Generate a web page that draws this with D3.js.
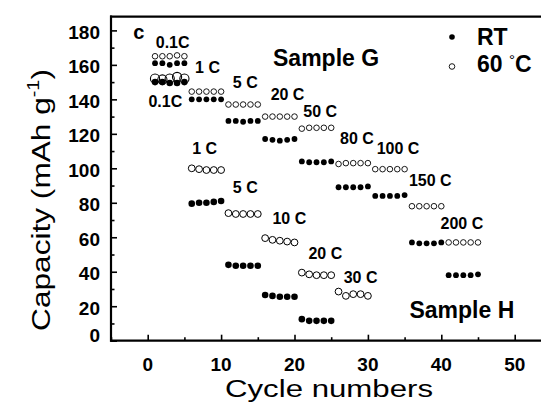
<!DOCTYPE html>
<html><head><meta charset="utf-8">
<script src="https://cdn.jsdelivr.net/npm/d3@7"></script>
<style>body{margin:0;background:#fff}svg{display:block}text{font-family:"Liberation Sans",Arial,sans-serif}</style>
</head><body><svg id="c" width="541" height="403"></svg>
<script>
// ---------- data ----------
const cyclesG = [1,2,3,4,5,6,7,8,9,10,11,12,13,14,15,16,17,18,19,20,21,22,23,24,25,26,27,28,29,30,31,32,33,34,35,36,37,38,39,40,41,42,43,44,45];
const sampleG_RT = [161,161,160,161,161, 140,140,140,140,140, 127.5,127.5,127,127.5,127.5, 117,116.5,116,116.5,117, 104,103.5,103.5,103.5,104, 89,89,89,89,89.5, 84,84,84,84,84.5, 57,56.5,56.5,56.5,57, 38,38,38,38,38.5];
const sampleG_60C = [165,165,165,165.5,165, 144.5,144.5,144.5,144.5,144.5, 137,137,137,137,137, 130,130,130,130,130, 123,123.5,123.5,123.5,123.5, 102.5,103,103,103,103, 99.5,99.5,99.5,99.5,99.5, 78,78,78,78,78, 57,57,57,57,57];
const cyclesH_RT = [1,2,3,4,5,6,7,8,9,10,11,12,13,14,15,16,17,18,19,20,21,22,23,24,25];
const sampleH_RT = [150,150,149.5,149.5,150, 79.5,80,80,80.5,81, 44,43.5,43.5,43.5,43.5, 26.5,26,25.5,25.5,25.5, 12.5,11.5,11.5,11.5,11.5];
const cyclesH_60C = [6,7,8,9,10,11,12,13,14,15,16,17,18,19,20,21,22,23,24,25,26,27,28,29,30];
const sampleH_60C = [100,99.5,99,99,99, 74,73.5,73.5,73.5,73.5, 59.5,58.5,58,57.5,57, 39.5,38.5,38,38,38, 28.5,26,27,27,26];
const cyclesH_60C_01 = [1,2,3,4,5];
const sampleH_60C_01 = [152,151.5,152,153,152];
const xTicks = [0,10,20,30,40,50];
const yTicks = [0,20,40,60,80,100,120,140,160,180];
const rateLabels = ["c","0.1C","1 C","0.1C","5 C","20 C","50 C","80 C","100 C","150 C","200 C","1 C","5 C","10 C","20 C","30 C"];
const rateLabelX = [-1.2,3.4,8.15,2.4,13.3,19.05,23.5,28.5,34.1,38.5,42.8,7.75,13.3,19.3,24.2,29];
const rateLabelY = [178.8,173,158.5,138.5,149.8,143.1,132.7,117.5,111.6,93.2,67.7,111.2,88.6,70.6,50.3,36.4];
const sampleNames = ["Sample G","Sample H"];
const sampleNameX = [24.3,42.8];
const sampleNameY = [164,17.8];

// ---------- chart ----------
const svg = d3.select("#c");
const x = d3.scaleLinear().domain([-5,55]).range([111,551.4]);
const y = d3.scaleLinear().domain([0,188]).range([340.7,16.6]);

const g = svg.append("g");
// frame top
g.append("line").attr("x1",110).attr("x2",541).attr("y1",y(188)).attr("y2",y(188)).attr("stroke","#000").attr("stroke-width",2.2);

// y axis
const yAx = g.append("g").attr("transform",`translate(${x(-5)},0)`)
  .call(d3.axisRight(y).tickValues(d3.range(0,181,10)).tickSize(4).tickFormat(""));
yAx.selectAll(".tick line").attr("stroke-width",1.6).attr("x2",d=>d%20===0?6:3.5);
yAx.select(".domain").attr("stroke-width",2.2).attr("d",`M0,${y(0)+1}V${y(188)-1}`);
g.selectAll(".ylab").data(yTicks).join("text")
  .attr("x",100).attr("y",d=>y(d)+(d===0?-5:2)).attr("text-anchor","end").attr("dominant-baseline","central")
  .attr("font-size",19).attr("font-weight","bold").text(d=>d);

// x axis
const xAx = g.append("g").attr("transform",`translate(0,${y(0)})`)
  .call(d3.axisTop(x).tickValues(d3.range(-5,56,5)).tickSize(4).tickFormat(""));
xAx.selectAll(".tick line").attr("stroke-width",1.6).attr("y2",d=>d%10===0?-6:-3.5);
xAx.select(".domain").attr("stroke-width",2.2).attr("d",`M${x(-5)-1},0H541`);
g.selectAll(".xlab").data(xTicks).join("text")
  .attr("x",d=>x(d)).attr("y",371).attr("text-anchor","middle")
  .attr("font-size",19).attr("font-weight","bold").text(d=>d);

// axis titles (horizontally stretched like the original)
g.append("text").attr("transform","translate(329,396.5) scale(1.3,1)").attr("text-anchor","middle")
  .attr("font-size",24).text("Cycle numbers");
const yt = g.append("text").attr("transform","translate(50,200) rotate(-90) scale(1.24,1)").attr("text-anchor","middle").attr("font-size",25.5);
yt.append("tspan").text("Capacity (mAh g");
yt.append("tspan").attr("font-size",16).attr("dy",-11).text("-1");
yt.append("tspan").attr("dy",11).text(")");

// markers
function filled(cx, cy, r){
  g.append("g").selectAll("circle").data(cx.map((c,i)=>[c,cy[i]])).join("circle")
   .attr("cx",d=>x(d[0])).attr("cy",d=>y(d[1])).attr("r",r).attr("fill","#000");
}
function open(cx, cy, r, sw){
  g.append("g").selectAll("circle").data(cx.map((c,i)=>[c,cy[i]])).join("circle")
   .attr("cx",d=>x(d[0])).attr("cy",d=>y(d[1])).attr("r",r).attr("fill","none").attr("stroke","#000").attr("stroke-width",sw);
}
open(cyclesG, sampleG_60C, 2.8, 0.9);
filled(cyclesG, sampleG_RT, 2.9);
open(cyclesH_60C, sampleH_60C, 3.4, 1);
open(cyclesH_60C_01, sampleH_60C_01, 4.6, 1.1);
filled(cyclesH_RT, sampleH_RT, 3.3);

// rate labels
g.selectAll(".rl").data(rateLabels).join("text")
  .attr("x",(d,i)=>x(rateLabelX[i])).attr("y",(d,i)=>y(rateLabelY[i]))
  .attr("text-anchor","middle").attr("dominant-baseline","central")
  .attr("font-size",(d,i)=>i===0?20:16).attr("font-weight","bold").text(d=>d);
g.selectAll(".sn").data(sampleNames).join("text")
  .attr("x",(d,i)=>x(sampleNameX[i])).attr("y",(d,i)=>y(sampleNameY[i]))
  .attr("text-anchor","middle").attr("dominant-baseline","central")
  .attr("font-size",23).attr("font-weight","bold").text(d=>d);

// legend
g.append("circle").attr("cx",452).attr("cy",37).attr("r",2.8).attr("fill","#000");
g.append("text").attr("x",477).attr("y",37).attr("dominant-baseline","central").attr("font-size",23).attr("font-weight","bold").text("RT");
g.append("circle").attr("cx",452).attr("cy",66.5).attr("r",2.8).attr("fill","none").attr("stroke","#000").attr("stroke-width",0.9);
const lt = g.append("text").attr("x",477).attr("y",64).attr("dominant-baseline","central").attr("font-size",23).attr("font-weight","bold");
lt.append("tspan").text("60 ");
lt.append("tspan").attr("font-size",15).attr("font-weight","normal").attr("dy",-5).text("°");
lt.append("tspan").attr("dy",5).text("C");
</script></body></html>
